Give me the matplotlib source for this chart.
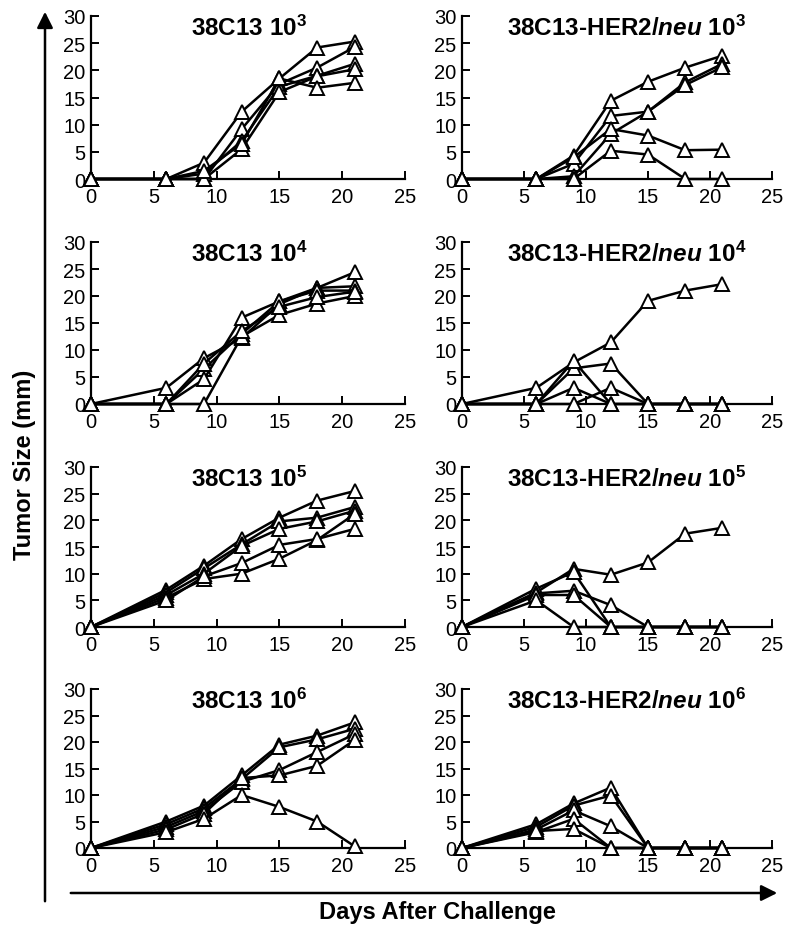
import matplotlib.pyplot as plt
from matplotlib.patches import FancyArrowPatch

plt.rcParams['font.family'] = ['Liberation Sans', 'DejaVu Sans']
plt.rcParams['mathtext.fontset'] = 'custom'
plt.rcParams['mathtext.rm'] = 'Liberation Sans:bold'
plt.rcParams['mathtext.it'] = 'Liberation Sans:bold:italic'
plt.rcParams['mathtext.bf'] = 'Liberation Sans:bold'

days = [0, 6, 9, 12, 15, 18, 21]

# tumour size (mm) per mouse, one list per mouse
wt_1e3 = [
    [0, 0, 3.0, 12.4, 18.5, 24.2, 25.3],
    [0, 0, 0, 9.2, 17.5, 20.5, 24.3],
    [0, 0, 1.0, 7.0, 17.0, 19.0, 21.2],
    [0, 0, 0, 5.5, 16.0, 18.9, 20.2],
    [0, 0, 1.5, 6.5, 18.5, 16.8, 17.7],
]
her_1e3 = [
    [0, 0, 4.3, 14.4, 17.9, 20.5, 22.7],
    [0, 0, 2.8, 11.6, 12.4, 17.8, 21.2],
    [0, 0, 0.5, 8.3, 12.4, 17.3, 20.6],
    [0, 0, 4.0, 9.2, 8.0, 5.3, 5.4],
    [0, 0, 0, 5.2, 4.5, 0, 0],
]
wt_1e4 = [
    [0, 3.0, 8.5, 12.2, 18.5, 21.5, 24.4],
    [0, 0, 6.5, 13.0, 19.0, 21.5, 21.8],
    [0, 0, 4.6, 16.0, 19.0, 21.0, 21.0],
    [0, 0, 0, 12.5, 16.5, 18.6, 20.0],
    [0, 0, 7.5, 13.5, 18.0, 19.8, 20.8],
]
her_1e4 = [
    [0, 3.0, 7.7, 11.4, 19.1, 21.0, 22.2],
    [0, 0, 6.6, 7.5, 0, 0, 0],
    [0, 0, 8.0, 0, 0, 0, 0],
    [0, 0, 3.0, 0, 0, 0, 0],
    [0, 0, 0, 3.0, 0, 0, 0],
]
wt_1e5 = [
    [0, 7.0, 11.5, 16.5, 20.5, 23.7, 25.5],
    [0, 6.5, 11.0, 15.5, 19.8, 20.5, 22.5],
    [0, 6.0, 10.0, 15.2, 18.4, 19.8, 21.8],
    [0, 5.5, 9.0, 10.0, 12.8, 16.3, 21.2],
    [0, 5.0, 9.5, 12.0, 15.4, 16.5, 18.4],
]
her_1e5 = [
    [0, 6.5, 10.9, 9.8, 12.1, 17.5, 18.6],
    [0, 7.2, 10.3, 0, 0, 0, 0],
    [0, 6.3, 6.8, 4.1, 0, 0, 0],
    [0, 6.0, 6.0, 0, 0, 0, 0],
    [0, 5.0, 0, 0, 0, 0, 0],
]
wt_1e6 = [
    [0, 5.0, 8.0, 13.7, 19.5, 21.2, 23.7],
    [0, 4.5, 7.5, 13.0, 19.0, 20.5, 22.5],
    [0, 4.0, 7.0, 12.5, 14.7, 18.1, 21.5],
    [0, 3.5, 6.5, 13.2, 13.7, 15.5, 20.4],
    [0, 3.0, 5.5, 10.0, 7.75, 5.0, 0.3],
]
her_1e6 = [
    [0, 4.5, 8.4, 11.4, 0, 0, 0],
    [0, 4.0, 8.0, 9.9, 0, 0, 0],
    [0, 3.5, 7.1, 4.1, 0, 0, 0],
    [0, 3.0, 5.5, 0, 0, 0, 0],
    [0, 3.2, 3.6, 0, 0, 0, 0],
]

doses = ['3', '4', '5', '6']
left_data = [wt_1e3, wt_1e4, wt_1e5, wt_1e6]
right_data = [her_1e3, her_1e4, her_1e5, her_1e6]

fig = plt.figure(figsize=(7.97, 9.28), dpi=100)

W, H = 797, 928
col_x = [(91, 314), (462, 310)]
row_y = [(180, 163), (405, 162), (628, 160), (849, 159)]


def draw_panel(ax, mice, title, tx):
    for m in mice:
        ax.plot(days, m, color='black', lw=1.8, marker='^', markersize=10,
                markerfacecolor='white', markeredgecolor='black',
                markeredgewidth=1.4, clip_on=False, zorder=3)
    ax.set_xlim(0, 25)
    ax.set_ylim(0, 30)
    ax.set_xticks([0, 5, 10, 15, 20, 25])
    ax.set_yticks([0, 5, 10, 15, 20, 25, 30])
    ax.spines['top'].set_visible(False)
    ax.spines['right'].set_visible(False)
    for s in ('left', 'bottom'):
        ax.spines[s].set_linewidth(1.6)
    ax.tick_params(direction='in', length=6, width=1.4, labelsize=14.5)
    ax.tick_params(axis='x', pad=6)
    ax.tick_params(axis='y', pad=4)
    ax.text(tx, 0.93, title, transform=ax.transAxes, ha='center',
            va='center', fontsize=17.5, fontweight='bold')


for r in range(4):
    y0, h = row_y[r]
    for c in range(2):
        x0, w = col_x[c]
        ax = fig.add_axes([x0 / W, 1 - y0 / H, w / W, h / H])
        if c == 0:
            title = r'38C13 $10^{' + doses[r] + '}$'
            draw_panel(ax, left_data[r], title, 0.505)
        else:
            title = r'38C13-HER2/$neu$ $10^{' + doses[r] + '}$'
            draw_panel(ax, right_data[r], title, 0.53)

# long axis arrows
fig.add_artist(FancyArrowPatch((45 / W, 1 - 905 / H), (45 / W, 1 - 10 / H),
                               transform=fig.transFigure, arrowstyle='-|>',
                               mutation_scale=24, lw=1.8, color='black'))
fig.add_artist(FancyArrowPatch((68 / W, 1 - 894 / H), (780 / W, 1 - 894 / H),
                               transform=fig.transFigure, arrowstyle='-|>',
                               mutation_scale=24, lw=1.8, color='black'))

fig.text(25 / W, 1 - 465 / H, 'Tumor Size (mm)', rotation=90, ha='center',
         va='center', fontsize=17, fontweight='bold',
         family=['Liberation Sans Narrow', 'Liberation Sans'])
fig.text(437 / W, 1 - 913 / H, 'Days After Challenge', ha='center',
         va='center', fontsize=17, fontweight='bold',
         family=['Liberation Sans Narrow', 'Liberation Sans'])

fig.savefig('out.png', dpi=100)
